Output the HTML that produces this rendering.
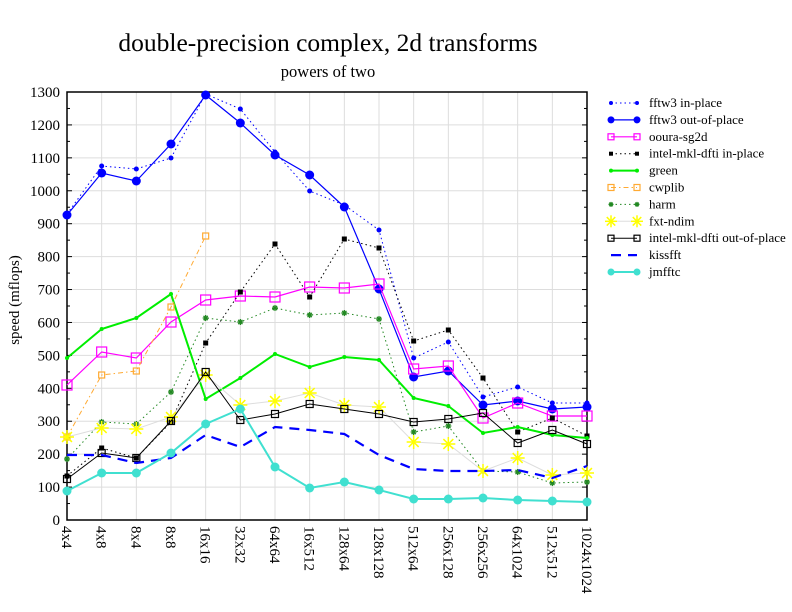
<!DOCTYPE html>
<html><head><meta charset="utf-8"><style>
body{margin:0;background:#fff}
svg{display:block;font-family:"Liberation Serif",serif}
</style></head><body>
<svg id="s" width="792" height="612" xmlns="http://www.w3.org/2000/svg">
<rect width="792" height="612" fill="#fff"/>
<text x="328" y="51" font-size="25.5" text-anchor="middle">double-precision complex, 2d transforms</text>
<text x="328" y="77" font-size="16.5" text-anchor="middle">powers of two</text>
<text transform="translate(19,300) rotate(-90)" font-size="15" text-anchor="middle">speed (mflops)</text>
<g id="g"></g>
</svg>
<script>
const NS="http://www.w3.org/2000/svg",g=document.getElementById('g');
function el(t,a,txt){const e=document.createElementNS(NS,t);for(const k in a)e.setAttribute(k,a[k]);if(txt!==undefined)e.textContent=txt;g.appendChild(e);return e;}
const L=67,R=587,T=92,B=520;const X=i=>L+(R-L)/15*i;const Y=v=>B-(B-T)*v/1300;
for(let v=0;v<=1300;v+=100){el('line',{x1:L,x2:R,y1:Y(v),y2:Y(v),stroke:'#ddd','stroke-width':1});
el('text',{x:60,y:Y(v)+5,'font-size':15,'text-anchor':'end'},v);
el('line',{x1:L,x2:L+5,y1:Y(v),y2:Y(v),stroke:'#000'});el('line',{x1:R,x2:R-5,y1:Y(v),y2:Y(v),stroke:'#000'});}
for(let v=50;v<1300;v+=100){el('line',{x1:L,x2:L+3,y1:Y(v),y2:Y(v),stroke:'#000'});el('line',{x1:R,x2:R-3,y1:Y(v),y2:Y(v),stroke:'#000'});}
const cats=["4x4","4x8","8x4","8x8","16x16","32x32","64x64","16x512","128x64","128x128","512x64","256x128","256x256","64x1024","512x512","1024x1024"];
cats.forEach((c,i)=>{el('line',{x1:X(i),x2:X(i),y1:T,y2:B,stroke:'#ddd'});
el('text',{transform:`translate(${X(i)-5},526) rotate(90)`,'font-size':15},c);});
el('rect',{x:L,y:T,width:R-L,height:B-T,fill:'none',stroke:'#000','stroke-width':1.5});
const S=[
{n:"fftw3 in-place",c:"#00f",w:1,d:"1.5,3",m:"dot",r:2.5,y:[214,166,169,158,94,109,152,191,205,230,358,342,397,387,403,403]},
{n:"fftw3 out-of-place",c:"#00f",w:1.2,d:"",m:"dot",r:4.5,y:[215,173,181,144,95,123,155,175,207,289,377,371,405,401,409,407]},
{n:"ooura-sg2d",c:"#f0f",w:1.2,d:"",m:"sq",r:5,y:[385,352,358,322,300,296,297,287,288,284,369,366,418,403,416,416]},
{n:"intel-mkl-dfti in-place",c:"#000",w:1,d:"1.5,3",m:"fsq",r:2.5,y:[476,448,458,422,343,292,244,297,239,248,341,330,378,432,418,436]},
{n:"green",c:"#0e0",w:2,d:"",m:"dot",r:2,y:[358,329,318,294,399,378,354,367,357,360,398,406,433,427,435,438]},
{n:"cwplib",c:"#fa3",w:1,d:"5,3,1.5,3",m:"sq",r:3,y:[437,375,371,307,236]},
{n:"harm",c:"#282",w:1,d:"1.5,3",m:"star",r:3,y:[459,422,424,392,318,322,308,315,313,319,432,426,471,472,483,482]},
{n:"fxt-ndim",c:"#ddd",w:1,d:"",m:"ystar",r:7,y:[437,428,429,417,375,405,401,393,405,407,442,444,471,458,475,473]},
{n:"intel-mkl-dfti out-of-place",c:"#000",w:1,d:"",m:"sq",r:3.5,y:[479,453,458,421,372,420,414,404,409,414,422,419,413,443,430,444]},
{n:"kissfft",c:"#00f",w:2.2,d:"10,7",m:"",r:0,y:[455,455,463,458,435,447,427,430,434,455,469,471,471,470,478,466]},
{n:"jmfftc",c:"#40e0d0",w:2,d:"",m:"dot",r:4.5,y:[491,473,473,453,424,409,467,488,482,490,499,499,498,500,501,502]}];
function mark(s,x,y,r){
 if(s.m=="dot")el('circle',{cx:x,cy:y,r:r,fill:s.c});
 else if(s.m=="sq")el('rect',{x:x-r,y:y-r,width:2*r,height:2*r,fill:'none',stroke:s.c,'stroke-width':1.2});
 else if(s.m=="fsq")el('rect',{x:x-r,y:y-r,width:2*r,height:2*r,fill:s.c});
 else if(s.m=="star"){for(let a=0;a<4;a++){const t=a*Math.PI/4;el('line',{x1:x-r*Math.cos(t),y1:y-r*Math.sin(t),x2:x+r*Math.cos(t),y2:y+r*Math.sin(t),stroke:s.c,'stroke-width':1.3});}}
 else if(s.m=="ystar"){for(let a=0;a<4;a++){const t=a*Math.PI/4;el('line',{x1:x-r*Math.cos(t),y1:y-r*Math.sin(t),x2:x+r*Math.cos(t),y2:y+r*Math.sin(t),stroke:'#ff0','stroke-width':1.5});}}
}
const LR=[2,3.5,3,2,2,3,2.5,6,3,0,3.5];
S.forEach((s,k)=>{
 el('polyline',{points:s.y.map((y,i)=>X(i)+','+y).join(' '),fill:'none',stroke:s.c,'stroke-width':s.w,'stroke-dasharray':s.d});
 s.y.forEach((y,i)=>mark(s,X(i),y,s.r));
 const ly=103+16.9*k;
 el('line',{x1:611,x2:637,y1:ly,y2:ly,stroke:s.c,'stroke-width':s.w,'stroke-dasharray':s.d});
 if(s.m){mark(s,611,ly,LR[k]);mark(s,637,ly,LR[k]);}
 el('text',{x:649,y:ly+4,'font-size':13},s.n);
});
</script>
</body></html>
